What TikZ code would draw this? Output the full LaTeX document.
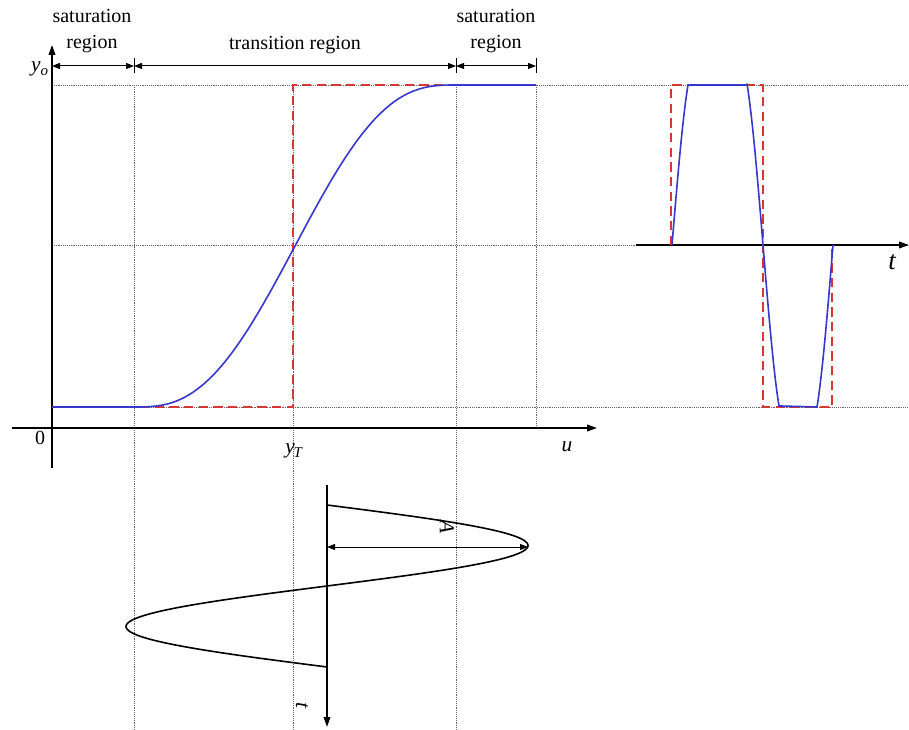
\documentclass[tikz,border=0pt]{standalone}
\usepackage{fontspec}
\setmainfont{Liberation Serif}
\usetikzlibrary{arrows.meta}
\definecolor{curveblue}{RGB}{55,55,205}
\definecolor{dashred}{RGB}{215,55,50}
\definecolor{gridgray}{RGB}{100,100,100}
\begin{document}
\begin{tikzpicture}[x=0.75pt,y=-0.75pt,
 grid/.style={gridgray, line width=0.55pt, dash pattern=on 0.7pt off 0.7pt},
 axis/.style={black, line width=1.2pt},
 axisarrow/.style={axis,-{Triangle[length=7.5pt,width=5pt]}},
 dim/.style={black,line width=0.75pt,{Triangle[length=6pt,width=4.5pt]}-{Triangle[length=6pt,width=4.5pt]}},
 tickline/.style={black,line width=0.75pt},
 sig/.style={curveblue,line width=1.2pt,line join=round},
 ideal/.style={dashred,line width=1.2pt,dash pattern=on 7pt off 4pt},
 lbl/.style={font=\fontsize{15}{19}\selectfont, align=center, inner sep=0pt},
 mlbl/.style={font=\fontsize{16}{19}\selectfont\itshape, inner sep=0pt},
 ]
\useasboundingbox (0,0) rectangle (909,730);

% ---------- coordinates ----------
\coordinate (yb) at (52,468);  \coordinate (yt) at (52,45);
\coordinate (xl) at (12,428);  \coordinate (xr) at (597,428);
\coordinate (g1t) at (134,85); \coordinate (g1b) at (134,730);
\coordinate (g2t) at (293,85); \coordinate (g2b) at (293,730);
\coordinate (g3t) at (456,85); \coordinate (g3b) at (456,730);
\coordinate (g4t) at (536,85); \coordinate (g4b) at (536,428);
\coordinate (h1l) at (52,85);  \coordinate (h1r) at (909,85);
\coordinate (h2l) at (52,245); \coordinate (h2r) at (909,245);
\coordinate (h3l) at (52,407); \coordinate (h3r) at (909,407);

% ---------- grid ----------
\draw[grid] (g1t) -- (g1b);
\draw[grid] (g2t) -- (g2b);
\draw[grid] (g3t) -- (g3b);
\draw[grid] (g4t) -- (g4b);
\draw[grid] (h1l) -- (h1r);
\draw[grid] (h2l) -- (h2r);
\draw[grid] (h3l) -- (h3r);

% ---------- dimension line ----------
\coordinate (d0) at (52,66);
\coordinate (d1) at (134,66);
\coordinate (d2) at (456,66);
\coordinate (d3) at (536,66);
\foreach \x in {134,456,536} \draw[tickline] (\x,58) -- (\x,73);
\draw[dim] (d0) -- (d1);
\draw[dim] (d1) -- (d2);
\draw[dim] (d2) -- (d3);
\node[lbl] (sat1) at (92,31) {saturation\\region};
\node[lbl] (trans) at (295,45) {transition region};
\node[lbl] (sat2) at (496,31) {saturation\\region};

% ---------- axes ----------
\draw[axisarrow] (yb) -- (yt);
\draw[axisarrow] (xl) -- (xr);
\node[mlbl] (yo) at (40,69) {y\textsubscript{o}};
\node[font=\fontsize{15}{17}\selectfont, inner sep=0pt] (zero) at (40,438) {0};
\node[mlbl] (u) at (567,447) {u};
\node[mlbl] (yT) at (294,451) {y\textsubscript{\kern-1pt T}};

% ---------- transfer curve ----------
\draw[ideal] (h3l) -- (293,407) -- (g2t) -- (g4t);
\draw[sig] (h3l) -- (134,407)
  -- plot[domain=0:1,samples=120] ({134+322*\x},{407-322*(6*\x^5-15*\x^4+10*\x^3)})
  -- (g4t);

% ---------- bottom input sine ----------
\coordinate (bt) at (327,485);
\coordinate (bb) at (327,727);
\draw[axisarrow] (bt) -- (bb);
\draw[black,line width=1.2pt] plot[domain=505:667,samples=160] ({327+201*sin((\x-505)/162*360)},\x);
\coordinate (a0) at (327,547);
\coordinate (a1) at (528,547);
\draw[dim] (a0) -- (a1);
\node[mlbl,rotate=-90] (A) at (447,527) {A};
\node[mlbl,rotate=-90] (tb) at (302,705) {t};

% ---------- right output waveform ----------
\coordinate (tl) at (636,245);
\coordinate (tr) at (909,245);
\draw[axisarrow] (tl) -- (tr);
\node[font=\fontsize{20}{22}\selectfont\itshape, inner sep=0pt] (tR) at (892,262) {t};
\draw[ideal] (671,245) -- (671,85) -- (763,85) -- (763,407) -- (832,407) -- (832,245);
\draw[sig] plot[domain=0:1,samples=30] ({672+16*\x},{245-160*sin(60*\x)/sin(60)})
  -- (747,85)
  -- plot[domain=-1:1,samples=60] ({763+16*\x},{245+161*sin(60*\x)/sin(60)})
  -- (817,407)
  -- plot[domain=-1:0,samples=30] ({833+16*\x},{245-162*sin(60*\x)/sin(60)});
\end{tikzpicture}
\end{document}
